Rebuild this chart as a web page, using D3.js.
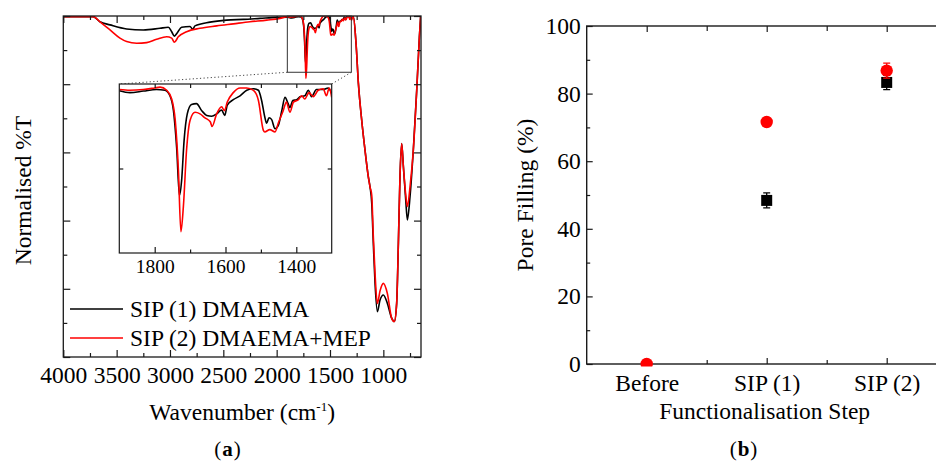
<!DOCTYPE html>
<html>
<head>
<meta charset="utf-8">
<script src="https://cdn.jsdelivr.net/npm/d3@7"></script>
<style>
  body { margin: 0; background: #fff; }
</style>
</head>
<body>
<svg id="chart" width="936" height="464"></svg>
<script>
// ---- data ----
// FTIR spectra: [wavenumber (cm-1), normalised %T (arbitrary units)]
const specDmaema = [
  [4000, 9.98], [3719, 9.98], [3656, 9.83], [3562, 9.74], [3406, 9.62], [3250, 9.59],
  [3094, 9.64], [3016, 9.67], [2984, 9.54], [2959, 9.41], [2931, 9.51], [2891, 9.67],
  [2812, 9.69], [2787, 9.61], [2766, 9.71], [2625, 9.82], [2469, 9.88], [2312, 9.90],
  [2156, 9.93], [2000, 9.96], [1900, 9.965], [1870, 9.94], [1832, 9.96], [1795, 9.98],
  [1771, 9.97], [1757, 9.90], [1747, 9.71], [1738, 9.24], [1730, 8.63], [1724, 8.82],
  [1717, 9.33], [1708, 9.67], [1696, 9.79], [1682, 9.80], [1667, 9.71], [1653, 9.65],
  [1639, 9.64], [1625, 9.67], [1611, 9.72], [1602, 9.65], [1595, 9.78], [1578, 9.85],
  [1559, 9.90], [1540, 9.97], [1521, 9.99], [1507, 9.97], [1498, 9.84], [1489, 9.63],
  [1484, 9.55], [1477, 9.62], [1470, 9.60], [1460, 9.48], [1451, 9.52], [1441, 9.71],
  [1432, 9.88], [1423, 9.80], [1418, 9.75], [1410, 9.84], [1399, 9.85], [1388, 9.89],
  [1376, 9.90], [1366, 9.97], [1357, 9.89], [1343, 9.98], [1324, 9.98], [1310, 10.0],
  [1300, 9.93], [1281, 9.98], [1256, 9.20], [1234, 8.03], [1203, 6.95], [1172, 6.07],
  [1141, 5.29], [1125, 4.99], [1109, 4.52], [1094, 3.34], [1078, 2.17], [1056, 1.33],
  [1031, 1.67], [1000, 1.82], [962, 1.57], [922, 1.14], [897, 1.04], [875, 1.58],
  [859, 3.34], [844, 5.29], [828, 6.26], [812, 5.58], [790, 4.60], [775, 4.02],
  [750, 4.70], [719, 6.07], [687, 7.83], [662, 9.39], [650, 10.0]
];
const specMep = [
  [4000, 9.98], [3719, 9.98], [3656, 9.83], [3562, 9.59], [3469, 9.35], [3406, 9.25],
  [3312, 9.20], [3219, 9.22], [3125, 9.32], [3031, 9.39], [2984, 9.35], [2959, 9.23],
  [2922, 9.39], [2844, 9.54], [2719, 9.64], [2562, 9.71], [2406, 9.77], [2250, 9.83],
  [2094, 9.88], [1969, 9.93], [1900, 9.98], [1870, 9.97], [1832, 9.98], [1800, 10.0],
  [1785, 10.01], [1766, 9.97], [1752, 9.86], [1742, 9.59], [1733, 8.95], [1726, 8.17],
  [1719, 8.49], [1710, 9.21], [1700, 9.59], [1686, 9.69], [1672, 9.67], [1658, 9.62],
  [1643, 9.57], [1638, 9.51], [1625, 9.67], [1611, 9.76], [1603, 9.71], [1595, 9.82],
  [1578, 9.94], [1559, 10.0], [1540, 10.0], [1521, 9.97], [1507, 9.84], [1493, 9.46],
  [1489, 9.44], [1475, 9.47], [1460, 9.44], [1451, 9.55], [1437, 9.71], [1428, 9.82],
  [1418, 9.69], [1408, 9.82], [1394, 9.85], [1385, 9.90], [1376, 9.86], [1364, 9.94],
  [1352, 9.89], [1338, 9.97], [1324, 9.99], [1315, 9.90], [1307, 10.0], [1300, 9.88],
  [1281, 9.98], [1256, 9.20], [1234, 8.03], [1203, 6.95], [1172, 6.07], [1141, 5.29],
  [1125, 4.99], [1109, 4.75], [1094, 3.54], [1078, 2.46], [1056, 1.57], [1031, 1.94],
  [1000, 2.16], [962, 1.86], [922, 1.14], [897, 1.04], [875, 1.58], [859, 3.34],
  [844, 5.29], [828, 6.26], [812, 5.58], [790, 4.75], [775, 4.41], [750, 4.99],
  [719, 6.07], [687, 7.83], [662, 9.39], [650, 10.0]
];
const seriesNames = ["SIP (1) DMAEMA", "SIP (2) DMAEMA+MEP"];

const waveTicks = [4000, 3500, 3000, 2500, 2000, 1500, 1000];
const waveMinor = [3750, 3250, 2750, 2250, 1750, 1250, 750];
const insetTicks = [1800, 1600, 1400];
const insetMinor = [1700, 1500];
const zoomWindow = [1900, 1300];

// pore filling (%)  (black square under the red dot at "Before" is not visible)
const categories = ["Before", "SIP (1)", "SIP (2)"];
const fillDmaema = [null, 48.4, 83.3];
const errDmaema = [0, 2.2, 2.1];
const fillMep = [0, 71.6, 86.8];
const errMep = [0, 0.8, 2.2];
const fillTicks = [0, 20, 40, 60, 80, 100];
const fillMinor = [10, 30, 50, 70, 90];

// ---- drawing ----
const svg = d3.select("#chart");
const ink = "#1a1a1a";
const red = "#ff0000";
const font = '"Liberation Serif", "Times New Roman", serif';
const fs = 23.5;

function axisStyle(g, size) {
  g.select(".domain").remove();
  g.attr("font-family", font).attr("font-size", size);
  g.selectAll(".tick line").attr("stroke", ink).attr("stroke-width", 1.2);
  g.selectAll(".tick text").attr("fill", "#000");
}

// 面板 (a)
const x = d3.scaleLinear().domain([4000, 647]).range([63.3, 421]);
const y = d3.scaleLinear().domain([0, 10]).range([357, 16]);
const pa = svg.append("g").attr("class", "panel-a");

pa.append("clipPath").attr("id", "clip-a")
  .append("rect")
  .attr("x", x.range()[0]).attr("y", y.range()[1])
  .attr("width", x.range()[1] - x.range()[0])
  .attr("height", y.range()[0] - y.range()[1]);

const line = d3.line()
  .x(d => x(d[0]))
  .y(d => y(d[1]))
  .curve(d3.curveMonotoneX);

pa.append("g").attr("clip-path", "url(#clip-a)")
  .selectAll("path")
  .data([specDmaema, specMep])
  .enter().append("path")
  .attr("fill", "none")
  .attr("stroke", (d, i) => i ? red : "#000")
  .attr("stroke-width", 1.6)
  .attr("d", line);

// ticks
pa.append("g").attr("transform", `translate(0,${y(0)})`)
  .call(d3.axisBottom(x).tickValues(waveTicks).tickSize(-7).tickPadding(9.5).tickFormat(d3.format("d")))
  .call(axisStyle, fs);
pa.append("g").attr("transform", `translate(0,${y(0)})`)
  .call(d3.axisBottom(x).tickValues(waveMinor).tickSize(-4).tickFormat(""))
  .call(axisStyle, fs);
pa.append("g").attr("transform", `translate(0,${y(10)})`)
  .call(d3.axisTop(x).tickValues(waveTicks).tickSize(-7).tickFormat(""))
  .call(axisStyle, fs);
pa.append("g").attr("transform", `translate(0,${y(10)})`)
  .call(d3.axisTop(x).tickValues(waveMinor).tickSize(-4).tickFormat(""))
  .call(axisStyle, fs);
[[d3.axisLeft, x.range()[0]], [d3.axisRight, x.range()[1]]].forEach(([ax, px]) => {
  pa.append("g").attr("transform", `translate(${px},0)`)
    .call(ax(y).tickValues(d3.range(0, 11, 2)).tickSize(-7).tickFormat(""))
    .call(axisStyle, fs);
  pa.append("g").attr("transform", `translate(${px},0)`)
    .call(ax(y).tickValues(d3.range(1, 10, 2)).tickSize(-4).tickFormat(""))
    .call(axisStyle, fs);
});

pa.append("rect")
  .attr("x", x.range()[0]).attr("y", y.range()[1])
  .attr("width", x.range()[1] - x.range()[0])
  .attr("height", y.range()[0] - y.range()[1])
  .attr("fill", "none").attr("stroke", ink).attr("stroke-width", 1.3);

// zoom box in main spectrum
const boxFloor = 8.35;
pa.append("rect")
  .attr("x", x(zoomWindow[0])).attr("y", y(10))
  .attr("width", x(zoomWindow[1]) - x(zoomWindow[0]))
  .attr("height", y(boxFloor) - y(10))
  .attr("fill", "none").attr("stroke", "#333").attr("stroke-width", 1);

// inset
const ix = d3.scaleLinear().domain(zoomWindow).range([119.3, 331.7]);
const iy = d3.scaleLinear().domain([7.9, 10.05]).range([253, 84]);
const inset = pa.append("g").attr("class", "inset");

[zoomWindow[0], zoomWindow[1]].forEach(w => {
  inset.append("line")
    .attr("x1", x(w)).attr("y1", y(boxFloor))
    .attr("x2", ix(w)).attr("y2", iy.range()[1])
    .attr("stroke", "#444").attr("stroke-width", 1)
    .attr("stroke-dasharray", "1.2,2.4");
});

inset.append("rect")
  .attr("x", ix.range()[0]).attr("y", iy.range()[1])
  .attr("width", ix.range()[1] - ix.range()[0])
  .attr("height", iy.range()[0] - iy.range()[1])
  .attr("fill", "#fff");

inset.append("clipPath").attr("id", "clip-inset")
  .append("rect")
  .attr("x", ix.range()[0]).attr("y", iy.range()[1])
  .attr("width", ix.range()[1] - ix.range()[0])
  .attr("height", iy.range()[0] - iy.range()[1]);

const insetLine = d3.line()
  .x(d => ix(d[0]))
  .y(d => iy(d[1]))
  .curve(d3.curveMonotoneX);

inset.append("g").attr("clip-path", "url(#clip-inset)")
  .selectAll("path")
  .data([specDmaema, specMep].map(s => s.filter(d => d[0] <= 1910 && d[0] >= 1290)))
  .enter().append("path")
  .attr("fill", "none")
  .attr("stroke", (d, i) => i ? red : "#000")
  .attr("stroke-width", 1.6)
  .attr("d", insetLine);

inset.append("g").attr("transform", `translate(0,${iy.range()[0]})`)
  .call(d3.axisBottom(ix).tickValues(insetTicks).tickSize(-6).tickPadding(6.5).tickFormat(d3.format("d")))
  .call(axisStyle, 19.5);
inset.append("g").attr("transform", `translate(0,${iy.range()[0]})`)
  .call(d3.axisBottom(ix).tickValues(insetMinor).tickSize(-3.5).tickFormat(""))
  .call(axisStyle, 19.5);
inset.append("g").attr("transform", `translate(0,${iy.range()[1]})`)
  .call(d3.axisTop(ix).tickValues(insetTicks.concat(insetMinor)).tickSize(-4).tickFormat(""))
  .call(axisStyle, 19.5);
const iMid = iy.invert((iy.range()[0] + iy.range()[1]) / 2);
inset.append("g").attr("transform", `translate(${ix.range()[0]},0)`)
  .call(d3.axisLeft(iy).tickValues([iMid]).tickSize(-4).tickFormat(""))
  .call(axisStyle, 19.5);
inset.append("g").attr("transform", `translate(${ix.range()[1]},0)`)
  .call(d3.axisRight(iy).tickValues([iMid]).tickSize(-4).tickFormat(""))
  .call(axisStyle, 19.5);

inset.append("rect")
  .attr("x", ix.range()[0]).attr("y", iy.range()[1])
  .attr("width", ix.range()[1] - ix.range()[0])
  .attr("height", iy.range()[0] - iy.range()[1])
  .attr("fill", "none").attr("stroke", ink).attr("stroke-width", 1.2);

// legend
const legend = pa.append("g").attr("class", "legend")
  .selectAll("g").data(seriesNames).enter().append("g")
  .attr("transform", (d, i) => `translate(70,${309 + i * 29})`);
legend.append("line")
  .attr("x1", 0).attr("x2", 53)
  .attr("stroke", (d, i) => i ? red : "#000").attr("stroke-width", 1.6);
legend.append("text")
  .attr("x", 60).attr("y", 7.8)
  .attr("font-family", font).attr("font-size", fs)
  .text(d => d);

// axis titles (a)
const xt = pa.append("text")
  .attr("x", (x.range()[0] + x.range()[1]) / 2).attr("y", 420)
  .attr("text-anchor", "middle")
  .attr("font-family", font).attr("font-size", fs);
xt.append("tspan").text("Wavenumber (cm");
xt.append("tspan").attr("dy", -9).attr("font-size", 13).text("-1");
xt.append("tspan").attr("dy", 9).text(")");

pa.append("text")
  .attr("transform", `translate(31,${(y.range()[0] + y.range()[1]) / 2 + 4}) rotate(-90)`)
  .attr("text-anchor", "middle")
  .attr("font-family", font).attr("font-size", fs)
  .text("Normalised %T");

// 面板 (b)
const bx = d3.scaleLinear().domain([0.5, 3.5]).range([586.7, 946.7]);
const by = d3.scaleLinear().domain([0, 100]).range([364, 26]);
const pb = svg.append("g").attr("class", "panel-b");

pb.append("g").attr("transform", `translate(${bx.range()[0]},0)`)
  .call(d3.axisLeft(by).tickValues(fillTicks).tickSize(-6).tickPadding(6))
  .call(axisStyle, fs);
pb.append("g").attr("transform", `translate(${bx.range()[0]},0)`)
  .call(d3.axisLeft(by).tickValues(fillMinor).tickSize(-3.5).tickFormat(""))
  .call(axisStyle, fs);
pb.append("g").attr("transform", `translate(0,${by(0)})`)
  .call(d3.axisBottom(bx).tickValues([1, 2, 3]).tickSize(-6).tickPadding(10.5).tickFormat(d => categories[d - 1]))
  .call(axisStyle, fs);
pb.append("g").attr("transform", `translate(0,${by(0)})`)
  .call(d3.axisBottom(bx).tickValues([1.5, 2.5]).tickSize(-4).tickFormat(""))
  .call(axisStyle, fs);
pb.append("g").attr("transform", `translate(0,${by(100)})`)
  .call(d3.axisTop(bx).tickValues([1, 2, 3]).tickSize(-6).tickFormat(""))
  .call(axisStyle, fs);
pb.append("g").attr("transform", `translate(0,${by(100)})`)
  .call(d3.axisTop(bx).tickValues([1.5, 2.5]).tickSize(-5).tickFormat(""))
  .call(axisStyle, fs);

pb.append("rect")
  .attr("x", bx.range()[0]).attr("y", by.range()[1])
  .attr("width", bx.range()[1] - bx.range()[0])
  .attr("height", by.range()[0] - by.range()[1])
  .attr("fill", "none").attr("stroke", ink).attr("stroke-width", 1.4);

pb.append("clipPath").attr("id", "clip-b")
  .append("rect")
  .attr("x", bx.range()[0]).attr("y", by.range()[1])
  .attr("width", bx.range()[1] - bx.range()[0])
  .attr("height", by.range()[0] - by.range()[1] + 2.5);

const marks = pb.append("g").attr("clip-path", "url(#clip-b)");

function errorBars(vals, errs, color) {
  const g = marks.append("g").attr("stroke", color).attr("stroke-width", 1.3);
  vals.forEach((v, i) => {
    if (v == null || !errs[i]) return;
    const cx = bx(i + 1);
    g.append("line").attr("x1", cx).attr("x2", cx)
      .attr("y1", by(v - errs[i])).attr("y2", by(v + errs[i]));
    [v - errs[i], v + errs[i]].forEach(e => {
      g.append("line").attr("x1", cx - 3.5).attr("x2", cx + 3.5)
        .attr("y1", by(e)).attr("y2", by(e));
    });
  });
}

errorBars(fillDmaema, errDmaema, "#000");
marks.append("g").selectAll("rect")
  .data(fillDmaema.map((v, i) => ({ v, i })).filter(d => d.v != null))
  .enter().append("rect")
  .attr("x", d => bx(d.i + 1) - 5.5)
  .attr("y", d => by(d.v) - 5.5)
  .attr("width", 11).attr("height", 11)
  .attr("fill", "#000");

errorBars(fillMep, errMep, red);
marks.append("g").selectAll("circle").data(fillMep).enter().append("circle")
  .attr("cx", (d, i) => bx(i + 1))
  .attr("cy", d => by(d))
  .attr("r", 6.2)
  .attr("fill", red);

pb.append("text")
  .attr("x", (bx(0.5) + bx(3.5)) / 2 - 2).attr("y", 419)
  .attr("text-anchor", "middle")
  .attr("font-family", font).attr("font-size", fs)
  .text("Functionalisation Step");

pb.append("text")
  .attr("transform", `translate(533,${(by.range()[0] + by.range()[1]) / 2}) rotate(-90)`)
  .attr("text-anchor", "middle")
  .attr("font-family", font).attr("font-size", fs)
  .text("Pore Filling (%)");

// panel letters
[["a", 228], ["b", 744]].forEach(([letter, cx]) => {
  const t = svg.append("text")
    .attr("x", cx).attr("y", 456)
    .attr("text-anchor", "middle")
    .attr("font-family", font).attr("font-size", 21)
    .attr("letter-spacing", 1);
  t.append("tspan").text("(");
  t.append("tspan").attr("font-weight", "bold").text(letter);
  t.append("tspan").text(")");
});
</script>
</body>
</html>
